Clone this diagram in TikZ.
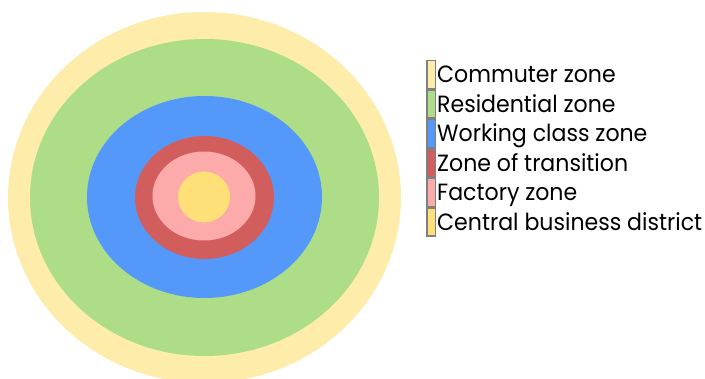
\documentclass[tikz,border=0pt]{standalone}
\usepackage{fontspec}
\setmainfont{Poppins}
\usepackage{graphicx}
\definecolor{cCommuter}{RGB}{253,236,170}
\definecolor{cResid}{RGB}{173,222,135}
\definecolor{cWork}{RGB}{84,153,249}
\definecolor{cTrans}{RGB}{209,94,93}
\definecolor{cFactory}{RGB}{252,170,170}
\definecolor{cCBD}{RGB}{255,224,120}
\definecolor{cBorder}{RGB}{128,128,128}
\newlength{\refw}
\newcommand{\legfont}{\fontsize{23.5}{28}\selectfont}
\settowidth{\refw}{\legfont Central business district}
\begin{document}
\pgfmathsetmacro{\hs}{265/\refw}
\newcommand{\legtext}[1]{\scalebox{\hs}[1]{\legfont #1}}
\begin{tikzpicture}[x=1pt,y=-1pt,
  swatch/.style={rectangle,draw=cBorder,line width=1.5pt,inner sep=0pt,minimum width=8.5pt,minimum height=28pt},
  legend/.style={anchor=base west,inner sep=0pt,text=black}]
\useasboundingbox (0,0) rectangle (705,379);
\begin{scope}
\clip (0,0) rectangle (705,379);
\fill[cCommuter] (204.5,197.5) ellipse [x radius=196.5pt, y radius=185.5pt];
\fill[cResid] (204.5,197.5) ellipse [x radius=174.5pt, y radius=158.5pt];
\fill[cWork] (204.5,197) ellipse [x radius=117.5pt, y radius=101pt];
\fill[cTrans] (204.5,197.5) ellipse [x radius=69.5pt, y radius=61.5pt];
\fill[cFactory] (204,196) ellipse [x radius=51.5pt, y radius=44.5pt];
\fill[cCBD] (204,197) ellipse [x radius=26pt, y radius=25.5pt];
\end{scope}
\node[swatch,fill=cCommuter] (s1) at (431,74.5) {};
\node[swatch,fill=cResid]    (s2) at (431,104) {};
\node[swatch,fill=cWork]     (s3) at (431,133.5) {};
\node[swatch,fill=cTrans]    (s4) at (431,163) {};
\node[swatch,fill=cFactory]  (s5) at (431,192.5) {};
\node[swatch,fill=cCBD]      (s6) at (431,222) {};
\node[legend] (t1) at (437,83)    {\legtext{Commuter zone}};
\node[legend] (t2) at (437,112.5) {\legtext{Residential zone}};
\node[legend] (t3) at (437,142)   {\legtext{Working class zone}};
\node[legend] (t4) at (437,171.5) {\legtext{Zone of transition}};
\node[legend] (t5) at (437,201)   {\legtext{Factory zone}};
\node[legend] (t6) at (437,230.5) {\legtext{Central business district}};
\end{tikzpicture}
\end{document}
